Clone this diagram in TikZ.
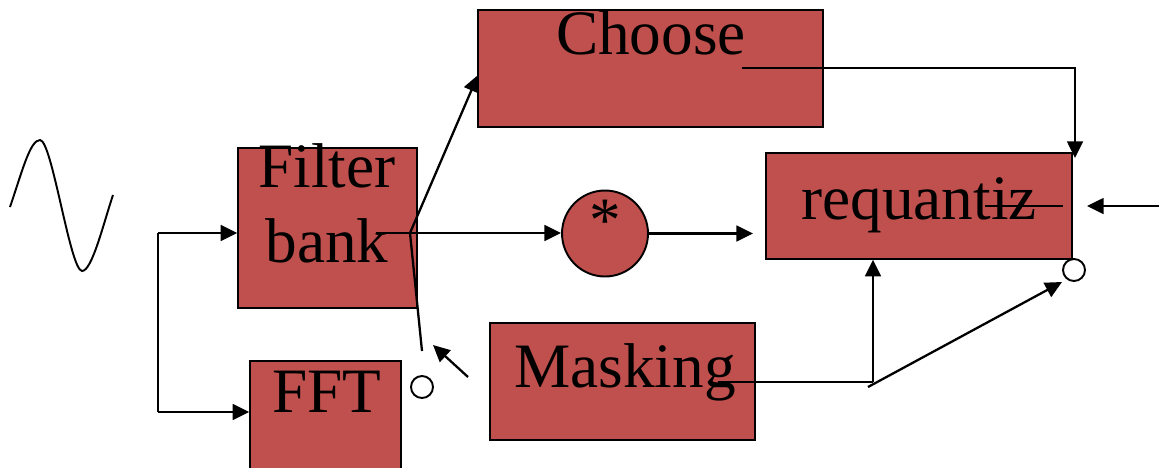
\documentclass[tikz,border=0pt]{standalone}
\usepackage{fontspec}
\setmainfont{Liberation Serif}
\usetikzlibrary{arrows.meta,positioning}
\definecolor{brick}{RGB}{192,80,77}

\begin{document}
\begin{tikzpicture}[
    x=0.02cm, y=-0.02cm,
    >={Triangle[length=9.5pt,width=9pt]},
    blok/.style={draw, fill=brick, line width=0.8pt, inner sep=0pt},
    dot/.style={draw, circle, fill=white, line width=1.1pt, minimum size=0.44cm, inner sep=0pt},
    lbl/.style={font=\fontsize{36}{42}\selectfont, anchor=base, inner sep=0pt},
    wire/.style={line width=1.3pt},
    arrow/.style={->, line width=1.3pt}
]
\useasboundingbox (0,0) rectangle (1159,467);

% blocks
\node[blok, minimum width=6.9cm, minimum height=2.34cm] (choose) at (650.5,68.5) {};
\node[blok, minimum width=3.58cm, minimum height=3.2cm] (filter) at (327.5,228) {};
\node[blok, minimum width=3.02cm, minimum height=2.4cm] (fft) at (325.5,421) {};
\node[blok, minimum width=5.3cm, minimum height=2.34cm] (masking) at (622.5,381.5) {};
\node[blok, minimum width=6.12cm, minimum height=2.12cm] (requant) at (919,206) {};
\node[blok, circle, line width=1.1pt, minimum size=1.72cm] (mult) at (605,233.5) {};
\node[dot] (dotl) at (422,387) {};
\node[dot] (dotr) at (1074,270) {};

% texts
\node[lbl] (choose-t) at (651,54) {Choose};
\node[lbl] (filter-t) at (327,187) {Filter};
\node[lbl] (bank-t) at (327,262) {bank};
\node[lbl] (fft-t) at (327,412) {FFT};
\node[lbl] (masking-t) at (625,387) {Masking};
\node[lbl] (requant-t) at (919,219) {requantiz};
\node[lbl] (mult-t) at (605,241) {*};

% input signal
\draw[line width=1.1pt] (10,207) .. controls (22,172) and (30,140) .. (40,140)
    .. controls (52,140) and (70,270) .. (82,271)
    .. controls (92,271) and (103,225) .. (113,195);

% connectors
\coordinate (fork) at (158,233);
\coordinate (forkb) at (158,412);
\draw[wire] (forkb) -- (fork);
\draw[arrow] (fork) -- (fork -| filter.west);
\draw[arrow] (forkb) -- (forkb -| fft.west);

\coordinate (hub) at (410,233);
\coordinate (hubin) at (376,233);
\coordinate (feed) at (422,351);
\coordinate (chin) at (478,75);
\draw[arrow] (hubin) -- (hub -| mult.west);
\draw[arrow] (hub) -- (chin);
\draw[wire] (hub) -- (feed);

\coordinate (back) at (468,377);
\coordinate (backtip) at (433,345);
\draw[arrow] (back) -- (backtip);

\coordinate (rqin) at (753,233.5);
\draw[arrow] (mult.east) -- (rqin);

\coordinate (chout) at (742,68);
\coordinate (rqtop) at (1075,158);
\draw[arrow] (chout) -| (rqtop);

\coordinate (strka) at (985,206);
\coordinate (strkb) at (1063,206);
\draw[wire] (strka) -- (strkb);

\coordinate (ext) at (1159,206);
\coordinate (rqright) at (1087,206);
\draw[arrow] (ext) -- (rqright);

\coordinate (mkout) at (718,382);
\coordinate (mkturn) at (873,382);
\coordinate (mkdiag) at (868,387);
\coordinate (dotin) at (1062,282);
\draw[wire] (mkout) -- (mkturn);
\draw[arrow] (mkturn) -- (mkturn |- requant.south);
\draw[arrow] (mkdiag) -- (dotin);
\end{tikzpicture}
\end{document}
